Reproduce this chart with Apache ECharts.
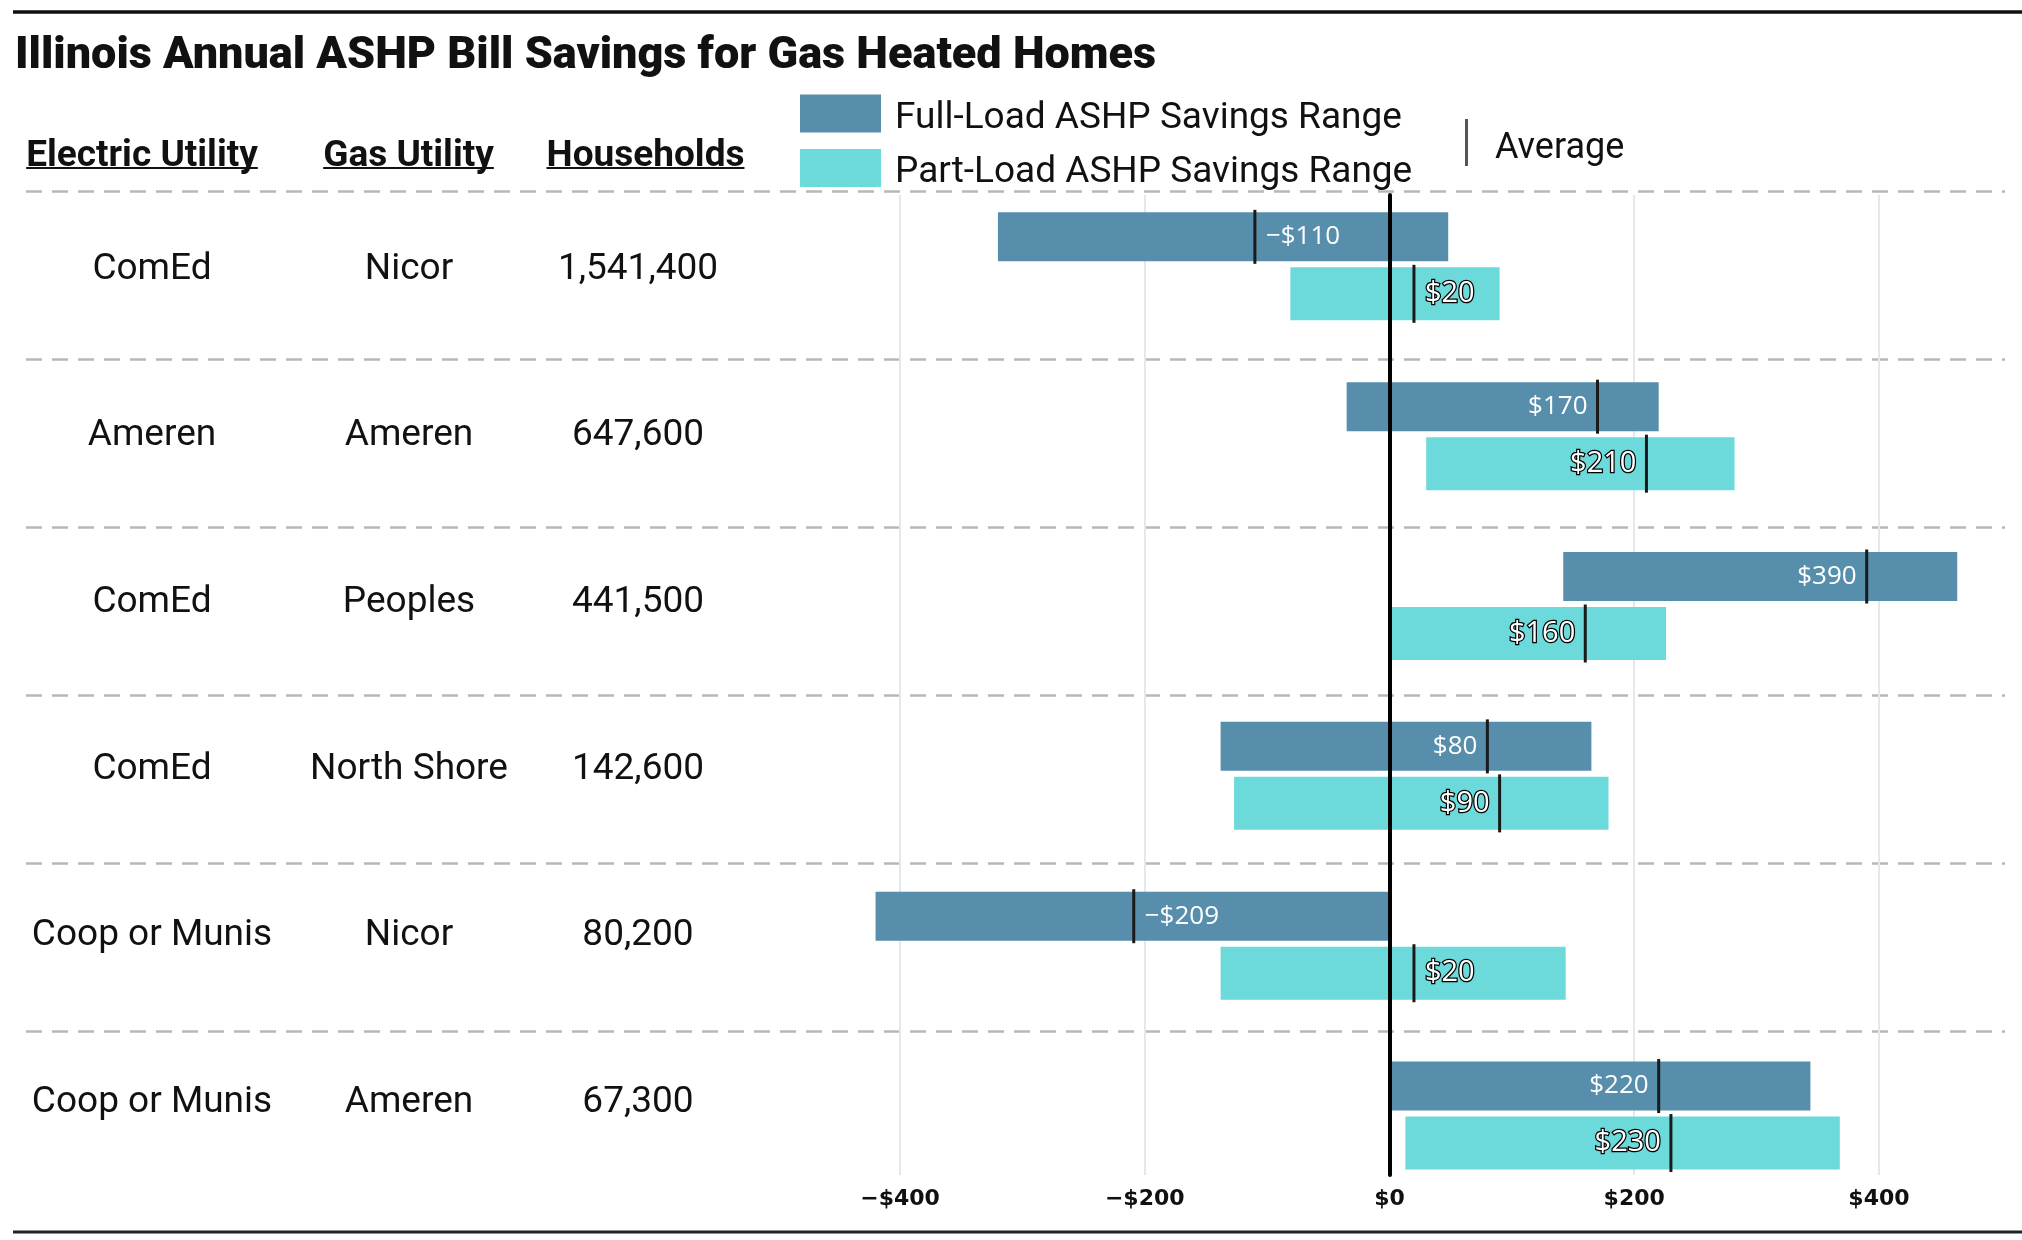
<!DOCTYPE html>
<html>
<head>
<meta charset="utf-8">
<title>Illinois Annual ASHP Bill Savings for Gas Heated Homes</title>
<script src="https://cdn.jsdelivr.net/npm/echarts@6/dist/echarts.min.js"></script>
<style>
  html, body { margin: 0; padding: 0; background: #fff; }
  #chart { width: 2022px; height: 1240px; }
</style>
</head>
<body>
<div id="chart"></div>
<script>
// table columns
var electricUtility = ['ComEd', 'Ameren', 'ComEd', 'ComEd', 'Coop or Munis', 'Coop or Munis'];
var gasUtility = ['Nicor', 'Ameren', 'Peoples', 'North Shore', 'Nicor', 'Ameren'];
var households = [1541400, 647600, 441500, 142600, 80200, 67300];

// full-load savings range and average ($/yr)
var fullMin = [-320, -35, 142, -138, -420, 2];
var fullMax = [48, 220, 464, 165, 0, 344];
var fullAvg = [-110, 170, 390, 80, -209, 220];

// part-load savings range and average ($/yr)
var partMin = [-81, 30, 2, -127, -138, 13];
var partMax = [90, 282, 226, 179, 144, 368];
var partAvg = [20, 210, 160, 90, 20, 230];

var tickValues = [-400, -200, 0, 200, 400];
var headers = ['Electric Utility', 'Gas Utility', 'Households'];

var FULL_COLOR = '#568eac';
var PART_COLOR = '#6cdada';

function money(v) {
  return (v < 0 ? '\u2212$' : '$') + Math.abs(v);
}

// bar geometry inside a row (pixels)
var BARS = [
  { off: -29.5, h: 49 },   // full-load
  { off: 27.5, h: 53 }     // part-load
];

function rangeRender(kind) {
  return function (params, api) {
    var row = api.value(2);
    var p0 = api.coord([api.value(0), row]);
    var p1 = api.coord([api.value(1), row]);
    var b = BARS[kind];
    return {
      type: 'rect',
      shape: { x: p0[0], y: p0[1] + b.off - b.h / 2, width: p1[0] - p0[0], height: b.h },
      style: { fill: api.visual('color') }
    };
  };
}

function avgRender(params, api) {
  var v = api.value(0);
  var kind = api.value(2);
  var p = api.coord([v, api.value(1)]);
  var b = BARS[kind];
  var h = b.h + 5;
  var right = v < 50;
  var label = {
    type: 'text',
    style: {
      text: money(v),
      x: p[0] + (right ? 11 : -10),
      y: p[1] + b.off,
      align: right ? 'left' : 'right',
      verticalAlign: 'middle',
      font: (kind ? '29px' : '26px') + ' "Open Sans", Roboto, sans-serif',
      fill: '#ffffff'
    }
  };
  if (kind) {
    label.style.stroke = '#000';
    label.style.lineWidth = 2.5;
    label.style.strokeFirst = true;
  }
  return {
    type: 'group',
    children: [
      {
        type: 'line',
        shape: { x1: p[0], y1: p[1] + b.off - h / 2, x2: p[0], y2: p[1] + b.off + h / 2 },
        style: { stroke: '#1a1a1a', lineWidth: 3 }
      },
      label
    ]
  };
}

// header underlines sized to the rendered text
var measureCtx = document.createElement('canvas').getContext('2d');
var HEADER_FONT = 'bold 37px Roboto';
measureCtx.font = HEADER_FONT;
var headerX = [142, 408.5, 645.5];
var headerGraphics = [];
headers.forEach(function (t, i) {
  var w = measureCtx.measureText(t).width;
  headerGraphics.push({
    type: 'text',
    style: { text: t, x: headerX[i], y: 157, align: 'center', verticalAlign: 'middle', font: HEADER_FONT, fill: '#111' }
  });
  headerGraphics.push({
    type: 'line',
    shape: { x1: headerX[i] - w / 2, y1: 168, x2: headerX[i] + w / 2, y2: 168 },
    style: { stroke: '#111', lineWidth: 2 }
  });
});

var chart = echarts.init(document.getElementById('chart'), null, { width: 2022, height: 1240 });

var option = {
  backgroundColor: '#fff',
  animation: false,
  title: {
    text: 'Illinois Annual ASHP Bill Savings for Gas Heated Homes',
    left: 15,
    top: 34,
    padding: 0,
    textStyle: { fontFamily: 'Roboto', fontWeight: 900, fontSize: 45, color: '#111' }
  },
  legend: [
    {
      data: ['Full-Load ASHP Savings Range', 'Part-Load ASHP Savings Range'],
      orient: 'vertical',
      left: 800,
      top: 94.5,
      padding: 0,
      itemWidth: 81,
      itemHeight: 38,
      itemGap: 12,
      icon: 'rect',
      selectedMode: false,
      formatter: '{t|{name}}',
      textStyle: {
        rich: { t: { fontFamily: 'Roboto', fontSize: 37, color: '#111', padding: [10, 0, 0, 9] } }
      }
    },
    {
      data: ['Average'],
      left: 1465,
      top: 119,
      padding: 0,
      itemWidth: 3,
      itemHeight: 47,
      icon: 'rect',
      selectedMode: false,
      formatter: '{t|{name}}',
      textStyle: {
        rich: { t: { fontFamily: 'Roboto', fontSize: 36, color: '#111', padding: [12, 0, 0, 22] } }
      }
    }
  ],
  grid: [
    { left: 26, right: 17, top: 191, height: 1008 },
    { left: 655.3, right: 20.7, top: 195, bottom: 65 },
    { left: 26, right: 17, top: 186, height: 1000 }
  ],
  xAxis: [
    { gridIndex: 0, type: 'value', min: 0, max: 1, show: false },
    {
      gridIndex: 1,
      type: 'value',
      min: -600,
      max: 500,
      interval: 200,
      axisLine: { show: false, onZero: false },
      axisTick: { show: false },
      axisLabel: {
        margin: 13,
        fontFamily: 'DejaVu Sans',
        fontWeight: 'bold',
        fontSize: 22,
        color: '#111',
        formatter: function (v) {
          return tickValues.indexOf(v) >= 0 ? money(v) : '';
        }
      },
      splitLine: {
        show: true,
        showMinLine: false,
        showMaxLine: false,
        lineStyle: { color: '#e3e9eb', width: 2 }
      }
    },
    { gridIndex: 2, type: 'value', min: 0, max: 1, show: false }
  ],
  yAxis: [
    {
      gridIndex: 2,
      type: 'category',
      inverse: true,
      data: electricUtility.map(function (v, i) { return i; }),
      axisLine: { show: false },
      axisTick: { show: false },
      splitLine: { show: false },
      axisLabel: {
        inside: true,
        margin: 0,
        interval: 0,
        formatter: function (v, i) {
          return '{a|' + electricUtility[i] + '}{b|' + gasUtility[i] + '}{c|' +
            echarts.format.addCommas(households[i]) + '}';
        },
        rich: {
          a: { width: 252, align: 'center', fontFamily: 'Roboto', fontSize: 37, color: '#111' },
          b: { width: 262, align: 'center', fontFamily: 'Roboto', fontSize: 37, color: '#111' },
          c: { width: 196, align: 'center', fontFamily: 'Roboto', fontSize: 37, color: '#111' }
        }
      }
    },
    {
      gridIndex: 0,
      type: 'value',
      inverse: true,
      min: 0,
      max: 6,
      interval: 1,
      axisLine: { show: false },
      axisTick: { show: false },
      axisLabel: { show: false },
      splitLine: {
        show: true,
        showMaxLine: false,
        lineStyle: { color: '#b8b8b8', width: 2.5, type: [16, 10] }
      }
    },
    {
      gridIndex: 1,
      type: 'value',
      inverse: true,
      min: -0.42,
      max: 5.35,
      z: 5,
      axisLine: { show: true, onZero: true, lineStyle: { color: '#000', width: 4 } },
      axisTick: { show: false },
      axisLabel: { show: false },
      splitLine: { show: false }
    }
  ],
  graphic: [
    { type: 'line', shape: { x1: 13, y1: 12, x2: 2022, y2: 12 }, style: { stroke: '#111', lineWidth: 3.5 } },
    { type: 'line', shape: { x1: 13, y1: 1232, x2: 2022, y2: 1232 }, style: { stroke: '#222', lineWidth: 3 } }
  ].concat(headerGraphics),
  series: [
    {
      name: 'Full-Load ASHP Savings Range',
      type: 'custom',
      xAxisIndex: 1,
      yAxisIndex: 2,
      itemStyle: { color: FULL_COLOR },
      renderItem: rangeRender(0),
      encode: { x: [0, 1], y: 2 },
      data: fullMin.map(function (v, i) { return [v, fullMax[i], i]; }),
      z: 2
    },
    {
      name: 'Part-Load ASHP Savings Range',
      type: 'custom',
      xAxisIndex: 1,
      yAxisIndex: 2,
      itemStyle: { color: PART_COLOR },
      renderItem: rangeRender(1),
      encode: { x: [0, 1], y: 2 },
      data: partMin.map(function (v, i) { return [v, partMax[i], i]; }),
      z: 2
    },
    {
      name: 'Average',
      type: 'custom',
      xAxisIndex: 1,
      yAxisIndex: 2,
      itemStyle: { color: '#555' },
      renderItem: avgRender,
      encode: { x: 0, y: 1 },
      data: fullAvg.map(function (v, i) { return [v, i, 0]; })
        .concat(partAvg.map(function (v, i) { return [v, i, 1]; })),
      z: 8
    }
  ]
};

chart.setOption(option);
</script>
</body>
</html>
